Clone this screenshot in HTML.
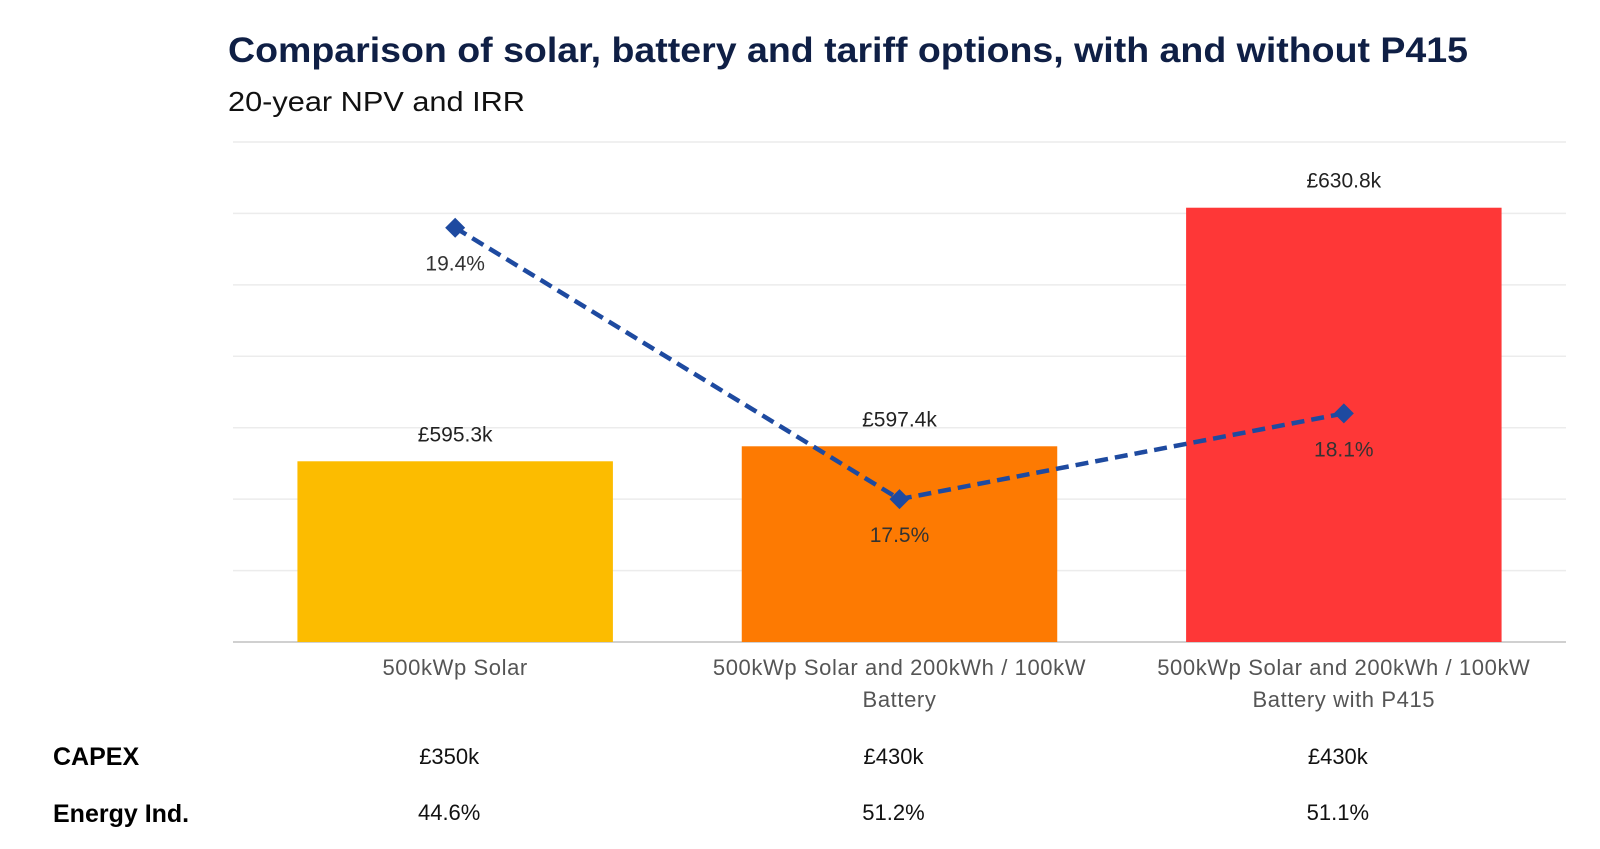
<!DOCTYPE html>
<html><head><meta charset="utf-8"><style>
html,body{margin:0;padding:0;background:#fff;}
svg{display:block;}
text{font-family:"Liberation Sans",sans-serif;}
</style></head><body>
<svg id="chart" width="1600" height="849" viewBox="0 0 1600 849" xmlns="http://www.w3.org/2000/svg">
<text x="228" y="62" font-size="35" font-weight="bold" fill="#0f1f45" textLength="1240" lengthAdjust="spacingAndGlyphs">Comparison of solar, battery and tariff options, with and without P415</text>
<text x="228" y="111" font-size="28" fill="#111" textLength="297" lengthAdjust="spacingAndGlyphs">20-year NPV and IRR</text>
<g id="grid"></g><g id="bars"></g><g id="line"></g><g id="labels"></g>
<text x="53" y="765" font-size="25" font-weight="bold" fill="#000">CAPEX</text>
<text x="53" y="822" font-size="25" font-weight="bold" fill="#000">Energy Ind.</text>
</svg>
<script>
const categories = [["500kWp Solar"],["500kWp Solar and 200kWh / 100kW","Battery"],["500kWp Solar and 200kWh / 100kW","Battery with P415"]];
const npvValues = [595.3, 597.4, 630.8];
const npvLabels = ["£595.3k","£597.4k","£630.8k"];
const irrValues = [19.4, 17.5, 18.1];
const irrLabels = ["19.4%","17.5%","18.1%"];
const capexLabels = ["£350k","£430k","£430k"];
const energyLabels = ["44.6%","51.2%","51.1%"];
const gridTicks = [570,580,590,600,610,620,630,640];
const barColors = ["#fcbc00","#fd7a02","#fe3737"];

const NS="http://www.w3.org/2000/svg";
const X0=233, X1=1566, Y0=642, Y1=142;
const band=(X1-X0)/categories.length;
const xc=i=>X0+band*(i+0.5);
const yL=v=>Y0-(v-570)/(640-570)*(Y0-Y1);
const yR=v=>Y0-(v-16.5)/(20-16.5)*(Y0-Y1);
function mk(tag,attrs,parent,txt){const e=document.createElementNS(NS,tag);for(const k in attrs)e.setAttribute(k,attrs[k]);if(txt!==undefined)e.textContent=txt;parent.appendChild(e);return e;}
const g=document.getElementById('grid'),b=document.getElementById('bars'),l=document.getElementById('line'),lb=document.getElementById('labels');
gridTicks.forEach((t,i)=>{
  const ln=mk('line',{x1:X0,x2:X1,y1:yL(t),y2:yL(t),stroke:i===0?'#d0d0d0':'#ececec','stroke-width':i===0?2:1.5},g);
  
  
});
const bw=band*0.71;
npvValues.forEach((v,i)=>{
  const r=mk('rect',{x:xc(i)-bw/2,y:yL(v),width:bw,height:Y0-yL(v),fill:barColors[i]},b);
  
  
  const t=mk('text',{x:xc(i),y:yL(v)-20,'font-size':21,fill:'#222','text-anchor':'middle'},lb,npvLabels[i]);
  
  
  categories[i].forEach((s,j)=>{
    const c=mk('text',{x:xc(i),y:675+j*32,'font-size':22,fill:'#555','text-anchor':'middle','letter-spacing':'0.6'},lb,s);
    
    
  });
  const cp=mk('text',{x:xc(i)-6,y:764,'font-size':22,fill:'#111','text-anchor':'middle'},lb,capexLabels[i]);
  
  
  const en=mk('text',{x:xc(i)-6,y:820,'font-size':22,fill:'#111','text-anchor':'middle'},lb,energyLabels[i]);
  
  
});
const pts=irrValues.map((v,i)=>xc(i)+','+yR(v)).join(' ');
const pl=mk('polyline',{points:pts,fill:'none',stroke:'#1e4aa0','stroke-width':4.5,'stroke-dasharray':'13 7'},l);


irrValues.forEach((v,i)=>{
  const x=xc(i),y=yR(v),s=10;
  const d=mk('polygon',{points:`${x},${y-s} ${x+s},${y} ${x},${y+s} ${x-s},${y}`,fill:'#1e4aa0'},l);
  
  
  const t=mk('text',{x:x,y:y+43,'font-size':21,fill:'#333','text-anchor':'middle'},lb,irrLabels[i]);
  
  
});
</script>
</body></html>
